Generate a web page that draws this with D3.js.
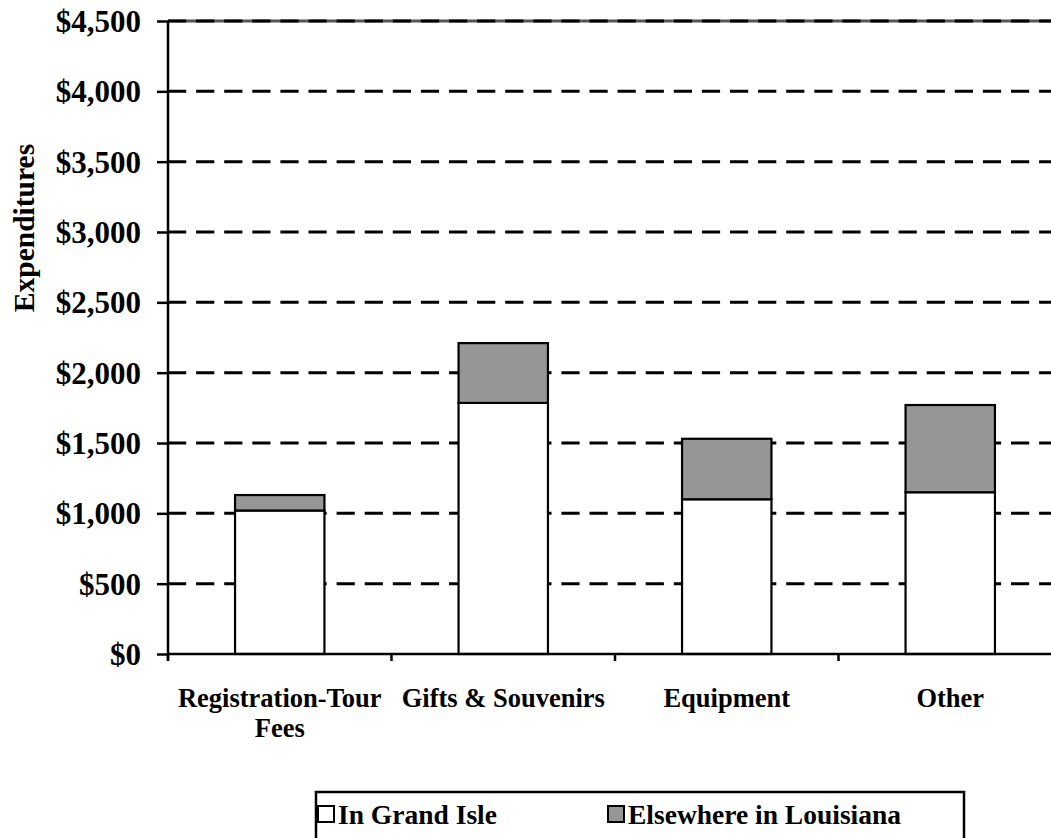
<!DOCTYPE html>
<html>
<head>
<meta charset="utf-8">
<script src="https://cdn.jsdelivr.net/npm/d3@7"></script>
<style>
  body { margin: 0; background: #fff; }
  svg { display: block; font-family: "Liberation Serif", "Times New Roman", serif; font-weight: bold; }
</style>
</head>
<body>
<div id="chart"></div>
<script>
// datos
var categories = ["Registration-Tour Fees", "Gifts & Souvenirs", "Equipment", "Other"];
var labelLines = [["Registration-Tour", "Fees"], ["Gifts & Souvenirs"], ["Equipment"], ["Other"]];
var inGrandIsle = [1020, 1785, 1100, 1150];
var elsewhere = [110, 425, 430, 620];
var seriesNames = ["In Grand Isle", "Elsewhere in Louisiana"];
var seriesColors = ["#ffffff", "#969696"];
var yTicks = [0, 500, 1000, 1500, 2000, 2500, 3000, 3500, 4000, 4500];

var W = 1051, H = 838;
var plotLeft = 168, plotRight = 1062, plotTop = 21, plotBottom = 654;

var svg = d3.select("#chart").append("svg")
    .attr("width", W)
    .attr("height", H);

var x = d3.scaleBand()
    .domain(categories)
    .range([plotLeft, plotRight])
    .paddingInner(0.6)
    .paddingOuter(0.3);

var y = d3.scaleLinear()
    .domain([0, 4500])
    .range([plotBottom, plotTop]);

// lineas de cuadricula
svg.append("line")
    .attr("x1", plotLeft).attr("x2", plotRight)
    .attr("y1", y(4500)).attr("y2", y(4500))
    .style("stroke", "#555").style("stroke-width", 3);

svg.selectAll(".grid")
    .data(yTicks.filter(function(d){ return d > 0; }))
    .enter().append("line")
    .attr("class", "grid")
    .attr("x1", plotLeft).attr("x2", plotRight)
    .attr("y1", function(d){ return y(d); })
    .attr("y2", function(d){ return y(d); })
    .style("stroke", "#000")
    .style("stroke-width", 3)
    .style("stroke-dasharray", "18.2,9.9");

// barras apiladas
var stackData = categories.map(function(c, i){
    return { cat: c, a: inGrandIsle[i], b: elsewhere[i] };
});
var stack = d3.stack().keys(["a", "b"]);
var layers = stack(stackData);

svg.selectAll(".layer")
    .data(layers)
    .enter().append("g")
    .attr("class", "layer")
    .style("fill", function(d, i){ return seriesColors[i]; })
    .selectAll("rect")
    .data(function(d){ return d; })
    .enter().append("rect")
    .attr("x", function(d){ return x(d.data.cat); })
    .attr("width", x.bandwidth())
    .attr("y", function(d){ return y(d[1]); })
    .attr("height", function(d){ return y(d[0]) - y(d[1]); })
    .style("stroke", "#000")
    .style("stroke-width", 2.2);

// eje Y
var yAxis = d3.axisLeft(y)
    .tickValues(yTicks)
    .tickFormat(d3.format("$,"))
    .tickSizeInner(11)
    .tickSizeOuter(0)
    .tickPadding(16);

var gy = svg.append("g")
    .attr("class", "y axis")
    .attr("transform", "translate(" + plotLeft + ",0)")
    .call(yAxis);
gy.select(".domain").remove();
gy.selectAll("line").style("stroke", "#000").style("stroke-width", 2.5);
gy.selectAll("text")
    .style("font-family", "'Liberation Serif', 'Times New Roman', serif")
    .style("font-weight", "bold")
    .style("font-size", "31px")
    .style("fill", "#000")
    .attr("dy", "0.34em");

svg.append("line")
    .attr("x1", plotLeft).attr("x2", plotLeft)
    .attr("y1", plotTop).attr("y2", plotBottom + 7)
    .style("stroke", "#000").style("stroke-width", 2.5);

// eje X
svg.append("line")
    .attr("x1", plotLeft).attr("x2", plotRight)
    .attr("y1", plotBottom).attr("y2", plotBottom)
    .style("stroke", "#000").style("stroke-width", 2.5);

svg.selectAll(".xtick")
    .data(d3.range(categories.length))
    .enter().append("line")
    .attr("class", "xtick")
    .attr("x1", function(i){ return plotLeft + i * x.step(); })
    .attr("x2", function(i){ return plotLeft + i * x.step(); })
    .attr("y1", plotBottom).attr("y2", plotBottom + 7)
    .style("stroke", "#000").style("stroke-width", 2.5);

var xlab = svg.selectAll(".xlabel")
    .data(categories)
    .enter().append("text")
    .attr("class", "xlabel")
    .attr("text-anchor", "middle")
    .style("font-size", "26.5px")
    .attr("transform", function(d){
        return "translate(" + (x(d) + x.bandwidth() / 2) + ",707)";
    });
xlab.selectAll("tspan")
    .data(function(d, i){ return labelLines[i]; })
    .enter().append("tspan")
    .attr("x", 0)
    .attr("y", function(d, i){ return i * 30; })
    .text(function(d){ return d; });

// titulo del eje Y
svg.append("text")
    .attr("transform", "translate(34,228) rotate(-90)")
    .attr("text-anchor", "middle")
    .style("font-size", "29.5px")
    .text("Expenditures");

// leyenda
svg.append("rect")
    .attr("x", 316).attr("y", 792)
    .attr("width", 648).attr("height", 70)
    .style("fill", "none")
    .style("stroke", "#000")
    .style("stroke-width", 2.5);

var legendX = [318, 608];
var leg = svg.selectAll(".legend")
    .data(seriesNames)
    .enter().append("g")
    .attr("class", "legend")
    .attr("transform", function(d, i){ return "translate(" + legendX[i] + ",806)"; });
leg.append("rect")
    .attr("width", 16).attr("height", 16)
    .style("fill", function(d, i){ return seriesColors[i]; })
    .style("stroke", "#000")
    .style("stroke-width", 2);
leg.append("text")
    .attr("x", 20).attr("y", 18)
    .style("font-size", "27.5px")
    .text(function(d){ return d; });
</script>
</body>
</html>
